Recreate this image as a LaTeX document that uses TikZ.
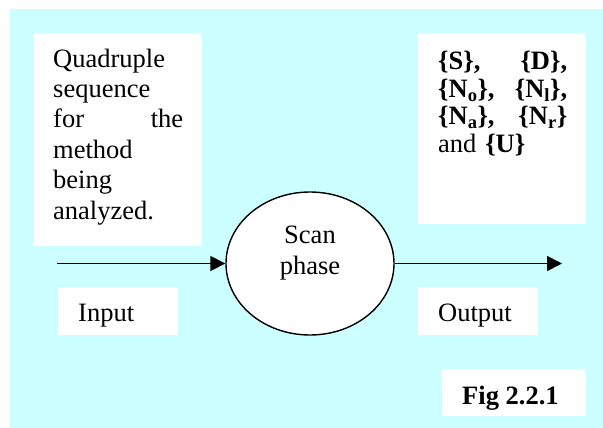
\documentclass[tikz,border=0pt]{standalone}
\usepackage{fontspec}
\setmainfont{Liberation Serif}
\usetikzlibrary{arrows.meta,shapes.geometric}
\definecolor{panel}{RGB}{204,255,255}
\tikzset{
  whitebox/.style={fill=white, draw=none, inner sep=0pt, anchor=north west},
  txt/.style={inner sep=0pt, anchor=base west, font=\fontsize{26.5}{30.5}\selectfont},
  flow/.style={line width=1.8pt, -{Triangle[length=15pt,width=15pt]}},
}
\begin{document}
\begin{tikzpicture}[x=1pt,y=-1pt]
\useasboundingbox (0,0) rectangle (603,428);
% background panel
\fill[panel] (10,9) rectangle (603,428);

% input description
\node[whitebox, minimum width=168pt, minimum height=213pt] (srcbox) at (34,33) {};
\node[txt, text width=130pt, align=left] (srctext) at (53,67)
  {Quadruple\\sequence\\for\hfill the\\method\\being\\analyzed.};

% output description
\node[whitebox, minimum width=168pt, minimum height=191pt] (resbox) at (418,33) {};
\node[txt, text width=129pt, align=left, font=\bfseries\fontsize{26.5}{27.5}\selectfont] (restext) at (438,70)
  {\{S\},\hfill\{D\},\\
   \{N\textsubscript{o}\},\hfill\{N\textsubscript{l}\},\\
   \{N\textsubscript{a}\},\hfill\{N\textsubscript{r}\}\\
   {\mdseries and} \{U\}};

% labels under the arrows
\node[whitebox, minimum width=120pt, minimum height=48pt] (inbox) at (58,287) {};
\node[txt] (intext) at (78,321) {Input};
\node[whitebox, minimum width=120pt, minimum height=48pt] (outbox) at (418,287) {};
\node[txt] (outtext) at (438,321) {Output};

% process
\node[ellipse, draw, fill=white, line width=1.4pt, minimum width=168pt, minimum height=143pt] (scan) at (310,263.5) {};
\node[txt, anchor=base, align=center] (scantext) at (310,274) {Scan\\phase};

% flow arrows
\coordinate (inStart) at (57,263.5);
\coordinate (outEnd) at (562,263.5);
\draw[flow] (inStart) -- (scan.west);
\draw[flow] (scan.east) -- (outEnd);

% caption
\node[whitebox, minimum width=144pt, minimum height=47pt] (figbox) at (442,369) {};
\node[txt, font=\bfseries\fontsize{26.5}{30.5}\selectfont] (figtext) at (462,404) {Fig 2.2.1};
\end{tikzpicture}
\end{document}
